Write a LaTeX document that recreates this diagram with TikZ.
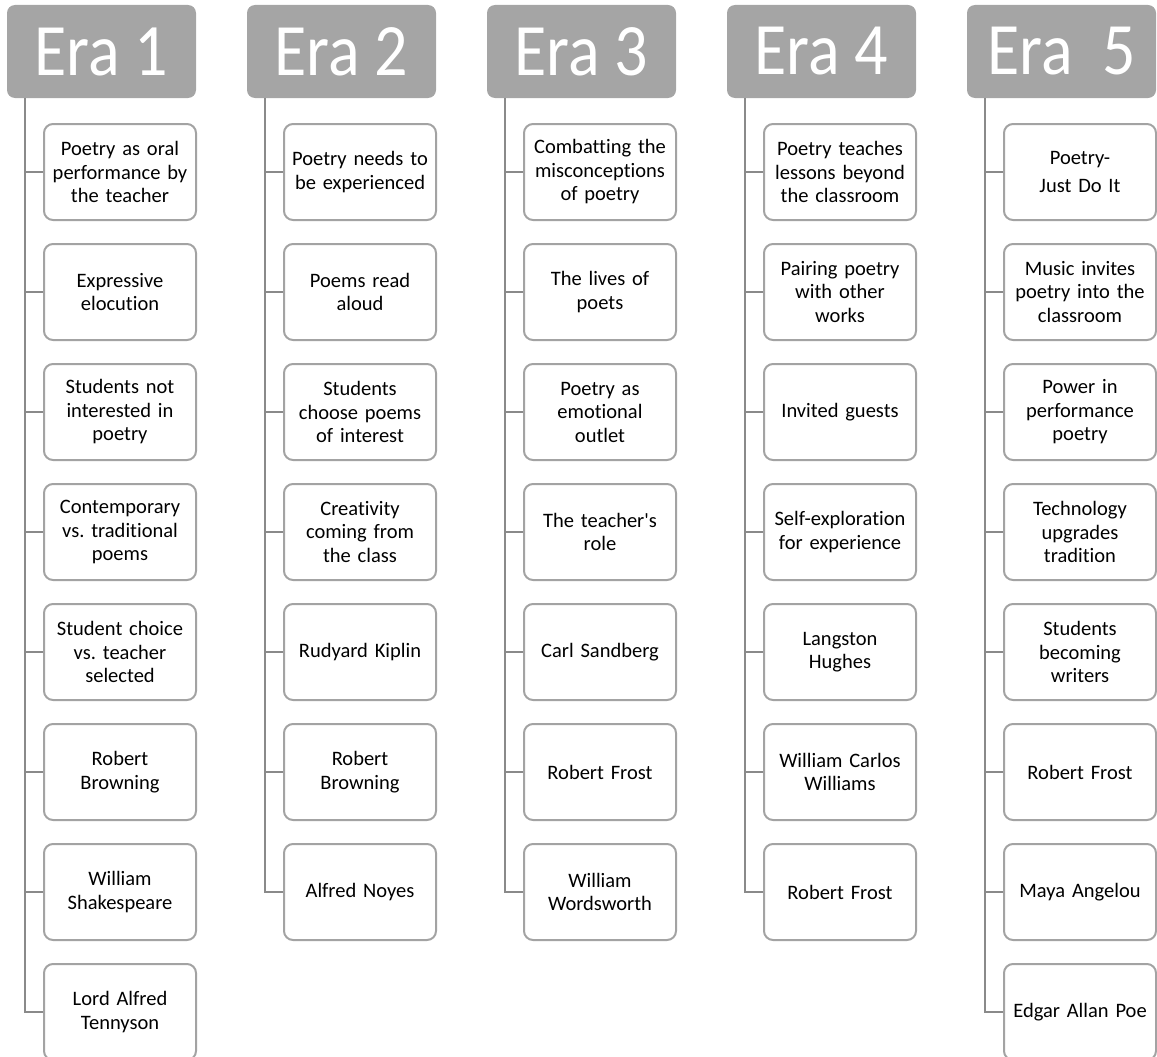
\documentclass[tikz,border=0pt]{standalone}
\usepackage{fontspec}
\setmainfont{Carlito}[Ligatures={NoCommon}]
\definecolor{eragray}{HTML}{A5A5A5}
\definecolor{boxgray}{HTML}{A3A3A3}
\definecolor{linegray}{HTML}{8A8A8A}
\newcommand{\eratext}[1]{\scalebox{1}[1.12]{#1}}
\frenchspacing

\begin{document}
\begin{tikzpicture}[x=1pt, y=-1pt,
	era/.style={fill=eragray, rounded corners=8pt, minimum width=189pt, minimum height=93pt, inner sep=0pt, text=white, font=\fontsize{66}{70}\selectfont},
	topic/.style={draw=boxgray, line width=2pt, rounded corners=9pt, fill=white, minimum width=152pt, minimum height=96pt, text width=150pt, inner sep=0pt, align=center, font=\fontsize{20.5}{23.5}\selectfont},
	trunk/.style={linegray, line width=2.5pt}]
\useasboundingbox (0,0) rectangle (1157,1057);

\node[era](h1) at (101.5,51.5){\eratext{Era 1}};
\node[era](h2) at (341.5,51.5){\eratext{Era 2}};
\node[era](h3) at (581.5,51.5){\eratext{Era 3}};
\node[era](h4) at (821.5,51.5){\eratext{Era 4}};
\node[era](h5) at (1061.5,51.5){\eratext{Era~~5}};

\foreach \t [count=\i] in {{Poetry as oral\\performance by\\the teacher}, {Expressive\\elocution}, {Students not\\interested in\\poetry}, {Contemporary\\vs. traditional\\poems}, {Student choice\\vs. teacher\\selected}, {Robert\\Browning}, {William\\Shakespeare}, {Lord Alfred\\Tennyson}}{
	\node[topic](b1-\i) at (120,52+120*\i){\t};
}
\foreach \t [count=\i] in {{Poetry needs to\\be experienced}, {Poems read\\aloud}, {Students\\choose poems\\of interest}, {Creativity\\coming from\\the class}, {Rudyard Kiplin}, {Robert\\Browning}, {Alfred Noyes}}{
	\node[topic](b2-\i) at (360,52+120*\i){\t};
}
\foreach \t [count=\i] in {{Combatting the\\misconceptions\\of poetry}, {The lives of\\poets}, {Poetry as\\emotional\\outlet}, {The teacher\textquotesingle s\\role}, {Carl Sandberg}, {Robert Frost}, {William\\Wordsworth}}{
	\node[topic](b3-\i) at (600,52+120*\i){\t};
}
\foreach \t [count=\i] in {{Poetry teaches\\lessons beyond\\the classroom}, {Pairing poetry\\with other\\works}, {Invited guests}, {Self-exploration\\for experience}, {Langston\\Hughes}, {William Carlos\\Williams}, {Robert Frost}}{
	\node[topic](b4-\i) at (840,52+120*\i){\t};
}
\foreach \t [count=\i] in {{Poetry-\\[5pt]Just Do It}, {Music invites\\poetry into the\\classroom}, {Power in\\performance\\poetry}, {Technology\\upgrades\\tradition}, {Students\\becoming\\writers}, {Robert Frost}, {Maya Angelou}, {Edgar Allan Poe}}{
	\node[topic](b5-\i) at (1080,52+120*\i){\t};
}

% trunks
\foreach \c/\n in {1/8,2/7,3/7,4/7,5/8}{
	\coordinate (t\c) at ([xshift=18pt]h\c.south west);
	\draw[trunk](t\c) |- (b\c-\n.west);
	\foreach \i in {1,...,\n}{
		\draw[trunk](t\c |- b\c-\i.west)--(b\c-\i.west);
	}
}
\end{tikzpicture}
\end{document}
